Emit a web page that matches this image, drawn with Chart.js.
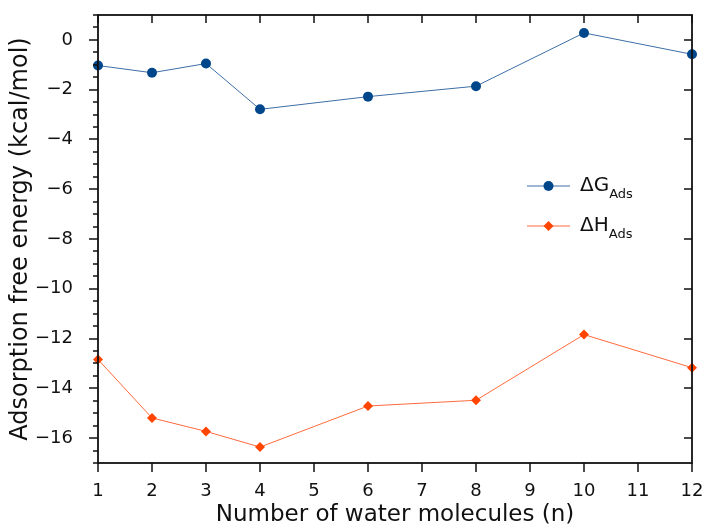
<!DOCTYPE html>
<html>
<head>
<meta charset="utf-8">
<script src="https://cdn.jsdelivr.net/npm/chart.js@4.4.0/dist/chart.umd.min.js"></script>
<style>
  html, body { margin: 0; padding: 0; background: #fff; }
  #wrap { width: 704px; height: 527px; }
</style>
</head>
<body>
<div id="wrap"><canvas id="grafica" width="704" height="527"></canvas></div>
<script>
const moleculas = [1, 2, 3, 4, 6, 8, 10, 12]
const deltaG = [-1.03, -1.32, -0.95, -2.79, -2.28, -1.86, 0.28, -0.58]
const deltaH = [-12.84, -15.19, -15.73, -16.36, -14.71, -14.48, -11.84, -13.17]
const ticksX = [1, 2, 3, 4, 5, 6, 7, 8, 9, 10, 11, 12]
const ticksY = [0, -2, -4, -6, -8, -10, -12, -14, -16]

const fuente = "'DejaVu Sans', sans-serif"
const negro = '#111111'

function menos(v){
    return v < 0 ? '\u2212' + Math.abs(v) : '' + v
}

// marco y marcas de los ejes, al estilo matplotlib
const marcoPlugin = {
    id: 'marco',
    afterDatasetsDraw(chart){
        const ctx = chart.ctx
        const a = chart.chartArea
        const sx = chart.scales.x
        const sy = chart.scales.y
        ctx.save()
        ctx.strokeStyle = negro
        ctx.lineWidth = 1.8
        ctx.strokeRect(a.left, a.top, a.right - a.left, a.bottom - a.top)
        ctx.lineWidth = 1.5
        ctx.beginPath()
        for (let v = sy.min; v <= sy.max + 1e-9; v += 0.5){
            const y = Math.round(sy.getPixelForValue(v))
            const mayor = ticksY.includes(v)
            ctx.moveTo(a.left, y)
            ctx.lineTo(a.left - (mayor ? 9 : 5), y)
            if (mayor){
                ctx.moveTo(a.right, y)
                ctx.lineTo(a.right - 8, y)
            }
        }
        ticksX.forEach(v => {
            const x = Math.round(sx.getPixelForValue(v))
            ctx.moveTo(x, a.bottom)
            ctx.lineTo(x, a.bottom + 9)
            ctx.moveTo(x, a.top)
            ctx.lineTo(x, a.top + 8)
        })
        ctx.stroke()
        ctx.restore()
    }
}

// leyenda dentro del area del grafico
const leyendaPlugin = {
    id: 'leyenda',
    afterDraw(chart){
        const ctx = chart.ctx
        const a = chart.chartArea
        const x0 = a.left + 429
        const filas = [
            {ds: chart.data.datasets[0], letra: '\u0394G', y: a.top + 171},
            {ds: chart.data.datasets[1], letra: '\u0394H', y: a.top + 211}
        ]
        ctx.save()
        filas.forEach(f => {
            ctx.strokeStyle = f.ds.borderColor
            ctx.lineWidth = 1
            ctx.beginPath()
            ctx.moveTo(x0, f.y)
            ctx.lineTo(x0 + 43, f.y)
            ctx.stroke()
            ctx.fillStyle = f.ds.pointBackgroundColor
            ctx.beginPath()
            if (f.ds.pointStyle === 'rectRot'){
                const r = 5
                ctx.moveTo(x0 + 21.5, f.y - r)
                ctx.lineTo(x0 + 21.5 + r, f.y)
                ctx.lineTo(x0 + 21.5, f.y + r)
                ctx.lineTo(x0 + 21.5 - r, f.y)
                ctx.closePath()
            } else {
                ctx.arc(x0 + 21.5, f.y, 5, 0, Math.PI * 2)
            }
            ctx.fill()
            ctx.fillStyle = negro
            ctx.textBaseline = 'middle'
            ctx.font = '20px ' + fuente
            ctx.fillText(f.letra, x0 + 53, f.y)
            const w = ctx.measureText(f.letra).width
            ctx.font = '13px ' + fuente
            ctx.fillText('Ads', x0 + 53 + w, f.y + 9)
        })
        ctx.restore()
    }
}

const grafica = new Chart(document.getElementById('grafica'), {
    type: 'line',
    data: {
        datasets: [
            {
                label: '\u0394G Ads',
                data: moleculas.map((n, i) => ({x: n, y: deltaG[i]})),
                borderColor: '#3d6ea6',
                borderWidth: 1,
                pointBackgroundColor: '#00468b',
                pointBorderColor: '#00468b',
                pointStyle: 'circle',
                pointRadius: 5,
                pointBorderWidth: 0,
                tension: 0,
                clip: false
            },
            {
                label: '\u0394H Ads',
                data: moleculas.map((n, i) => ({x: n, y: deltaH[i]})),
                borderColor: '#ff6a3d',
                borderWidth: 1,
                pointBackgroundColor: '#ff4500',
                pointBorderColor: '#ff4500',
                pointStyle: 'rectRot',
                pointRadius: 5,
                pointBorderWidth: 0,
                tension: 0,
                clip: false
            }
        ]
    },
    options: {
        responsive: false,
        animation: false,
        layout: { padding: { top: 15, right: 12, left: 0, bottom: 0 } },
        plugins: {
            legend: { display: false },
            tooltip: { enabled: false }
        },
        scales: {
            x: {
                type: 'linear',
                min: 1,
                max: 12,
                afterBuildTicks: s => { s.ticks = ticksX.map(v => ({value: v})) },
                afterFit: s => { s.height = 64; s.paddingLeft = 0; s.paddingRight = 0 },
                grid: { display: false },
                border: { display: false },
                ticks: {
                    color: negro,
                    font: { family: fuente, size: 18 },
                    padding: 10,
                    maxRotation: 0,
                    autoSkip: false
                },
                title: {
                    display: true,
                    text: 'Number of water molecules (n)',
                    color: negro,
                    font: { family: fuente, size: 23 },
                    padding: { top: 0, bottom: -2 }
                }
            },
            y: {
                type: 'linear',
                min: -17,
                max: 1,
                afterBuildTicks: s => { s.ticks = ticksY.map(v => ({value: v})) },
                afterFit: s => { s.width = 98; s.paddingTop = 0; s.paddingBottom = 0 },
                grid: { display: false },
                border: { display: false },
                ticks: {
                    color: negro,
                    font: { family: fuente, size: 18 },
                    padding: 17,
                    callback: v => menos(v)
                },
                title: {
                    display: true,
                    text: 'Adsorption free energy (kcal/mol)',
                    color: negro,
                    font: { family: fuente, size: 24 },
                    padding: { top: 6, bottom: 0 }
                }
            }
        }
    },
    plugins: [marcoPlugin, leyendaPlugin]
})
</script>
</body>
</html>
